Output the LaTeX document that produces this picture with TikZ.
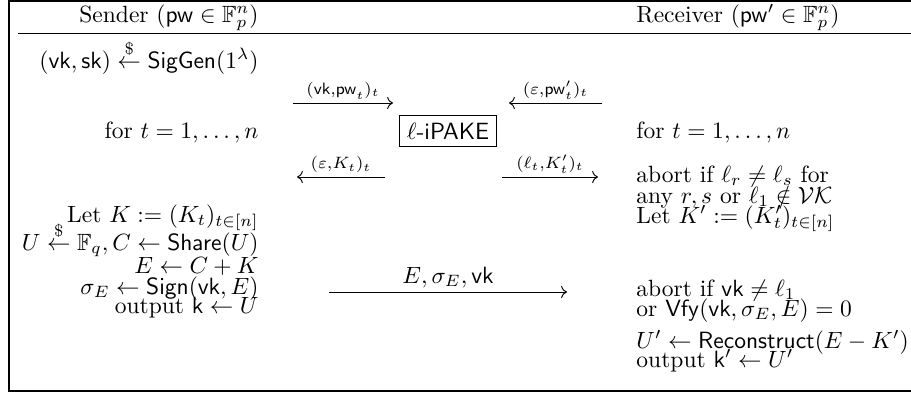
\documentclass[tikz,border=0pt]{standalone}
\usepackage{amsmath,amssymb}
\usetikzlibrary{arrows.meta}
\newcommand{\sfx}[1]{\mathsf{#1}}
\newcommand{\rnd}{\stackrel{\$}{\leftarrow}}
\tikzset{
  lcol/.style={anchor=base east, inner sep=0pt},
  rcol/.style={anchor=base west, inner sep=0pt},
  msg/.style={->, line width=0.4pt},
  lbl/.style={above, inner sep=1.5pt},
  frame/.style={line width=0.6pt},
}
\begin{document}
\begin{tikzpicture}[x=0.4255pt, y=-0.4255pt]
\useasboundingbox (0,0) rectangle (911,392);
% frame
\draw[frame] (911,0.8) -- (9,0.8) -- (9,391) -- (911,391);
\draw (18,33) -- (911,33);
% headers
\node[lcol] (hs) at (259,22) {Sender ($\sfx{pw}\in\mathbb{F}_p^n$)};
\node[rcol] (hr) at (636,22) {Receiver ($\sfx{pw}'\in\mathbb{F}_p^n$)};
% left column
\node[lcol] (l1) at (259,68) {$(\sfx{vk},\sfx{sk}) \rnd \sfx{SigGen}(1^\lambda)$};
\node[lcol] (l2) at (259,138) {for $t=1,\dots,n$};
\node[lcol] (l3) at (259,222) {Let $K := (K_t)_{t\in[n]}$};
\node[lcol] (l4) at (259,250) {$U \rnd \mathbb{F}_q, C \leftarrow \sfx{Share}(U)$};
\node[lcol] (l5) at (259,273) {$E \leftarrow C + K$};
\node[lcol] (l6) at (259,294) {$\sigma_E \leftarrow \sfx{Sign}(\sfx{vk},E)$};
\node[lcol] (l7) at (259,313) {output $\sfx{k} \leftarrow U$};
% right column
\node[rcol] (r1) at (636,138) {for $t=1,\dots,n$};
\node[rcol] (r2) at (636,182) {abort if $\ell_r\neq\ell_s$ for};
\node[rcol] (r3) at (636,203) {any $r,s$ or $\ell_1\notin\mathcal{VK}$};
\node[rcol] (r4) at (636,223) {Let $K' := (K'_t)_{t\in[n]}$};
\node[rcol] (r5) at (636,296) {abort if $\sfx{vk}\neq\ell_1$};
\node[rcol] (r6) at (636,316) {or $\sfx{Vfy}(\sfx{vk},\sigma_E,E)=0$};
\node[rcol] (r7) at (636,348) {$U'\leftarrow\sfx{Reconstruct}(E-K')$};
\node[rcol] (r8) at (636,367) {output $\sfx{k}'\leftarrow U'$};
% middle box
\node[draw, inner sep=3pt] (box) at (448,131) {$\ell$-\textsf{iPAKE}};
% message arrows
\coordinate (a1s) at (293,103); \coordinate (a1e) at (393,103);
\coordinate (a2s) at (602,103); \coordinate (a2e) at (509,103);
\coordinate (a3s) at (385,177); \coordinate (a3e) at (297,177);
\coordinate (a4s) at (502,177); \coordinate (a4e) at (598,177);
\coordinate (a5s) at (329,292); \coordinate (a5e) at (567,292);
\draw[msg] (a1s) -- node[lbl] (m1) {$\scriptstyle(\sfx{vk},\sfx{pw}_t)_t$} (a1e);
\draw[msg] (a2s) -- node[lbl] (m2) {$\scriptstyle(\varepsilon,\sfx{pw}'_t)_t$} (a2e);
\draw[msg] (a3s) -- node[lbl] (m3) {$\scriptstyle(\varepsilon,K_t)_t$} (a3e);
\draw[msg] (a4s) -- node[lbl] (m4) {$\scriptstyle(\ell_t,K'_t)_t$} (a4e);
\draw[msg] (a5s) -- node[above, inner sep=1.5pt] (m5) {$E,\sigma_E,\sfx{vk}$} (a5e);
\end{tikzpicture}
\end{document}
